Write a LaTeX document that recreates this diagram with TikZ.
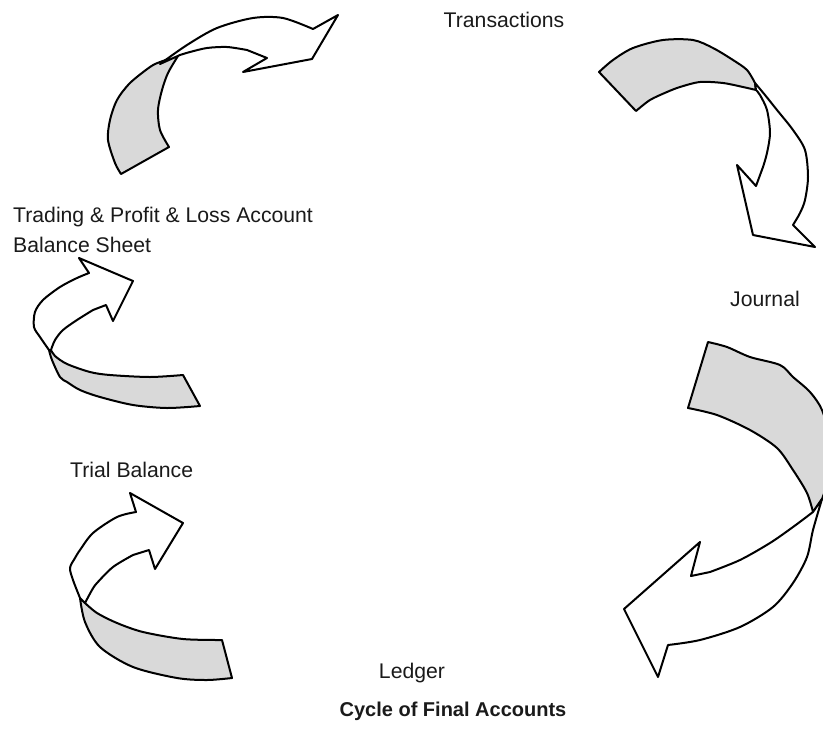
\documentclass[tikz,border=0pt]{standalone}
\usepackage{xcolor}
\usepackage{tikz}
\usepackage{fontspec}
\setmainfont{Liberation Sans}
\definecolor{band_gray}{HTML}{D9D9D9}
\definecolor{text_black}{HTML}{1A1A1A}

\begin{document}
\begin{tikzpicture}[
            x=1pt,
            y=-1pt,
            line cap=round,
            line join=round,
            band/.style={draw=black, fill=band_gray, line width=2pt},
            front/.style={draw=black, fill=white, line width=2pt},
            label/.style={inner sep=0pt, text=text_black, font=\fontsize{21.2}{30}\selectfont},
            heading/.style={inner sep=0pt, text=text_black, font=\fontsize{20}{24}\selectfont\bfseries}
        ]
            % Page frame
            \useasboundingbox (0,0) rectangle (823,732);
            \clip (0,0) rectangle (823,732);

            % Arrow from the final accounts back to the transactions (top left)
            \draw[band] plot[smooth, tension=0.5] coordinates {(178,56) (160,62) (150,67) (130,83) (117,100) (110,120) (108,140) (115,163) (121,174)}
                -- plot[smooth, tension=0.5] coordinates {(169,147) (160,130) (158,110) (162,90) (168,73) (178,56)} -- cycle;
            \draw[front] plot[smooth, tension=0.5] coordinates {(160,64) (187,45) (217,28) (253,18) (283,18) (313,29)}
                -- (338,15) -- (312,59) -- (243,72) -- (267,58)
                -- plot[smooth, tension=0.5] coordinates {(247,50) (227,47) (207,48) (190,52) (180,55)} -- cycle;

            % Arrow from the transactions to the journal (top right)
            \draw[band] plot[smooth, tension=0.5] coordinates {(599,72) (613,60) (633,48) (663,40) (693,40) (713,48) (733,60) (747,70) (755,83)}
                -- plot[smooth, tension=0.5] coordinates {(756,90) (743,87) (723,83) (700,82) (680,87) (667,92) (650,100) (636,111)} -- cycle;
            \draw[front] plot[smooth, tension=0.5] coordinates {(755,83) (765,95) (777,110) (793,130) (805,150) (808,177) (805,200) (800,213) (793,225)}
                -- (815,247) -- (753,235) -- (737,165) -- (756,186)
                -- plot[smooth, tension=0.5] coordinates {(763,167) (767,153) (770,133) (767,110) (760,95) (756,90)} -- cycle;

            % Arrow from the journal to the ledger (right)
            \draw[band] plot[smooth, tension=0.5] coordinates {(708,342) (727,347) (750,357) (780,365) (793,377) (810,392) (822,410) (830,440) (831,470) (822,499)}
                -- plot[smooth, tension=0.5] coordinates {(813,512) (807,493) (793,470) (777,448) (750,430) (717,415) (688,408)} -- cycle;
            \draw[front] plot[smooth, tension=0.5] coordinates {(822,499) (813,530) (807,557) (793,583) (773,607) (740,627) (700,640) (668,645)}
                -- (658,677) -- (624,609) -- (700,542) -- (691,576)
                -- plot[smooth, tension=0.5] coordinates {(710,572) (740,560) (770,543) (793,527) (813,512)} -- cycle;

            % Arrow from the ledger to the trial balance (bottom left)
            \draw[band] plot[smooth, tension=0.5] coordinates {(80,598) (85,622) (100,647) (133,667) (177,678) (207,680) (232,678)}
                -- plot[smooth, tension=0.5] coordinates {(222,640) (183,639) (143,632) (117,623) (97,613) (85,603)} -- cycle;
            \draw[front] plot[smooth, tension=0.5] coordinates {(80,598) (73,580) (70,568) (75,558) (80,550) (93,533) (117,517) (136,512)}
                -- (130,493) -- (183,523) -- (155,569) -- (149,550)
                -- plot[smooth, tension=0.5] coordinates {(133,555) (113,567) (97,583) (92,590) (85,603)} -- cycle;

            % Arrow from the trial balance to the final accounts (middle left)
            \draw[band] plot[smooth, tension=0.5] coordinates {(49,350) (52,360) (60,377) (67,382) (80,390) (100,397) (133,405) (167,408) (200,406)}
                -- plot[smooth, tension=0.5] coordinates {(183,375) (150,377) (110,375) (90,372) (67,364) (55,356) (51,350)} -- cycle;
            \draw[front] plot[smooth, tension=0.5] coordinates {(49,350) (40,337) (34,327) (35,312) (43,300) (60,287) (77,278) (89,273)}
                -- (79,258) -- (133,281) -- (113,321) -- (106,305)
                -- plot[smooth, tension=0.5] coordinates {(93,310) (77,320) (63,330) (55,340) (51,350)} -- cycle;

            % Stages of the cycle
            \node[label, anchor=base] (transactions) at (504,27) {Transactions};
            \node[label, anchor=base] (journal) at (765,306) {Journal};
            \node[label, anchor=base] (ledger) at (412,678) {Ledger};
            \node[label, anchor=base west] (trial) at (70,477) {Trial Balance};
            \node[label, anchor=north west, align=left] (final) at (13,207) {Trading \& Profit \& Loss Account\\Balance Sheet};

            % Title
            \node[heading, anchor=base] (title) at (453,716) {Cycle of Final Accounts};
        \end{tikzpicture}
\end{document}
